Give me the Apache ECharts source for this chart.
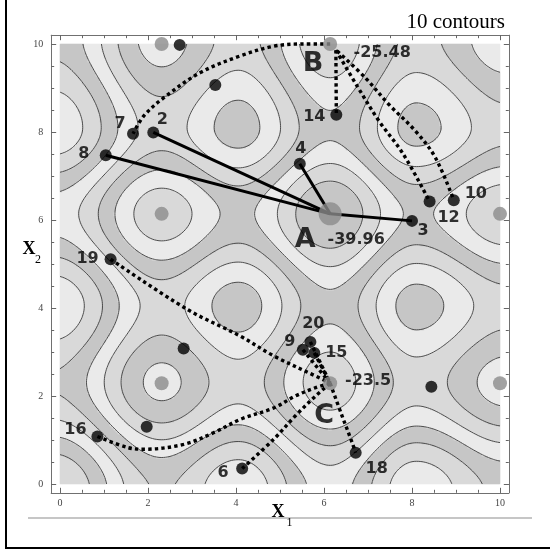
<!DOCTYPE html>
<html>
<head>
<meta charset="utf-8">
<script src="https://cdn.jsdelivr.net/npm/echarts@6.0.0/dist/echarts.min.js"></script>
<style>
html,body{margin:0;padding:0;background:#ffffff;}
#chart{width:550px;height:551px;}
</style>
</head>
<body>
<div id="chart"></div>
<script>
// ---------------- values ----------------
const chartTitle = '10 contours';
const contourCount = 10;
const xTickValues = [0, 2, 4, 6, 8, 10];
const yTickValues = [0, 2, 4, 6, 8, 10];
const minorTickValues = [0, 0.5, 1, 1.5, 2, 2.5, 3, 3.5, 4, 4.5, 5, 5.5, 6, 6.5, 7, 7.5, 8, 8.5, 9, 9.5, 10];

// one-coordinate term of the objective (objective = term(x1) + term(x2)):
// positions and values of its alternating maxima / minima
const profileExtremaX = [-0.15, 2.31, 4.05, 6.14, 8.1, 10.15];
const profileExtremaG = [47.3, -3.52, 19.5, -19.98, 18.6, -5.9];

// local minima (grey markers)
const minimaNames  = ['A', 'B', 'C', 'm1', 'm2', 'm3', 'm4', 'm5'];
const minimaX      = [6.14, 6.14, 6.14, 2.31, 2.31, 2.31, 10.0, 10.0];
const minimaY      = [6.14, 10.0, 2.29, 10.0, 6.14, 2.29, 6.14, 2.29];
const minimaValues = ['-39.96', '-25.48', '-23.5', '', '', '', '', ''];

// particles (black markers)
const particleNames = ['2', '3', '4', '6', '7', '8', '9', '10', '12', '14', '15', '16', '18', '19', '20', '', '', '', '', ''];
const particleX     = [2.12, 8.0, 5.45, 4.14, 1.66, 1.04, 5.52, 8.95, 8.4, 6.28, 5.78, 0.85, 6.72, 1.15, 5.69, 2.72, 3.53, 2.81, 1.97, 8.44];
const particleY     = [7.99, 5.98, 7.28, 0.35, 7.96, 7.47, 3.05, 6.45, 6.42, 8.39, 2.98, 1.08, 0.71, 5.11, 3.23, 9.98, 9.07, 3.08, 1.30, 2.21];

// solid links from A
const solidLinkTargets = ['8', '2', '4', '3'];

// dotted trajectories
const pathB7X  = [6.14, 5.5, 4.86, 4.1, 3.19, 2.36, 1.9, 1.66];
const pathB7Y  = [10.0, 10.0, 9.95, 9.73, 9.35, 8.78, 8.36, 7.96];
const pathB14X = [6.27, 6.28];
const pathB14Y = [9.86, 8.39];
const pathB12X = [6.27, 6.75, 7.25, 7.8, 8.4];
const pathB12Y = [9.86, 9.05, 8.25, 7.5, 6.42];
const pathB10X = [6.3, 6.94, 7.47, 8.08, 8.53, 8.95];
const pathB10Y = [9.84, 9.23, 8.63, 8.02, 7.42, 6.45];
const path19CX = [1.15, 2.89, 4.1, 4.86, 5.88, 6.14];
const path19CY = [5.11, 3.97, 3.36, 2.91, 2.42, 2.29];
const path16CX = [0.85, 1.53, 1.9, 2.81, 3.5, 4.1, 4.86, 5.35, 5.81, 6.14];
const path16CY = [1.08, 0.83, 0.79, 0.9, 1.17, 1.47, 1.73, 2.0, 2.19, 2.29];
const path6CX  = [4.14, 4.86, 5.35, 5.81, 6.14];
const path6CY  = [0.35, 1.02, 1.55, 2.0, 2.29];
const pathC18X = [6.14, 6.41, 6.64, 6.72];
const pathC18Y = [2.29, 1.55, 0.94, 0.71];
const dottedLinkPairs = [['9', 'C'], ['20', 'C'], ['15', 'C']];

// ---------------- styles (kept apart from the data) ----------------
const bandShades = ['#c6c6c6', '#d9d9d9', '#eaeaea'];
const particleLabelOffset = {
  '2': [9, -13], '3': [11, 10], '4': [1, -15], '6': [-19, 4], '7': [-13, -10], '8': [-22, -1],
  '9': [-13, -8], '10': [22, -6], '12': [19, 16], '14': [-22, 2], '15': [22, 0], '16': [-22, -7],
  '18': [21, 16], '19': [-23, 0], '20': [3, -18]
};
const letterOffset = { A: [-25, 26], B: [-17, 20], C: [-6, 33] };
const valueOffset  = { A: [26, 26], B: [52, 9], C: [38, -2] };

// ---------------- objective surface ----------------
// smooth half-cosine transition between consecutive extrema of the profile
function extremaProfile(xs, gs) {
  const n = xs.length;
  return function (x) {
    if (x <= xs[0]) return gs[0];
    if (x >= xs[n - 1]) return gs[n - 1];
    let i = 0;
    while (x > xs[i + 1]) i++;
    const t = (x - xs[i]) / (xs[i + 1] - xs[i]);
    return gs[i] + (gs[i + 1] - gs[i]) * (1 - Math.cos(Math.PI * t)) / 2;
  };
}
const term = extremaProfile(profileExtremaX, profileExtremaG);

// sampling lattice for contours
const LAT = 200, latStep = 10 / LAT;
const lat = [];
for (let i = 0; i <= LAT; i++) lat.push(i * latStep);
const termLat = lat.map(term);
const F = [];
let fMin = Infinity, fMax = -Infinity;
for (let j = 0; j <= LAT; j++) {
  const row = [];
  for (let i = 0; i <= LAT; i++) {
    const v = termLat[i] + termLat[j];
    row.push(v);
    if (v < fMin) fMin = v;
    if (v > fMax) fMax = v;
  }
  F.push(row);
}
const levels = [];
for (let k = 1; k <= contourCount; k++) levels.push(fMin + (fMax - fMin) * k / (contourCount + 1));

function contourSegments(level) {
  const segs = [];
  for (let j = 0; j < LAT; j++) {
    for (let i = 0; i < LAT; i++) {
      const v0 = F[j][i], v1 = F[j][i + 1], v2 = F[j + 1][i + 1], v3 = F[j + 1][i];
      let c = 0;
      if (v0 > level) c |= 1; if (v1 > level) c |= 2; if (v2 > level) c |= 4; if (v3 > level) c |= 8;
      if (c === 0 || c === 15) continue;
      const x0 = lat[i], x1 = lat[i + 1], y0 = lat[j], y1 = lat[j + 1];
      const eB = () => [x0 + (level - v0) / (v1 - v0) * (x1 - x0), y0];
      const eR = () => [x1, y0 + (level - v1) / (v2 - v1) * (y1 - y0)];
      const eT = () => [x0 + (level - v3) / (v2 - v3) * (x1 - x0), y1];
      const eL = () => [x0, y0 + (level - v0) / (v3 - v0) * (y1 - y0)];
      const add = (a, b) => segs.push([a[0], a[1], b[0], b[1]]);
      switch (c) {
        case 1: case 14: add(eL(), eB()); break;
        case 2: case 13: add(eB(), eR()); break;
        case 3: case 12: add(eL(), eR()); break;
        case 4: case 11: add(eR(), eT()); break;
        case 6: case 9: add(eB(), eT()); break;
        case 7: case 8: add(eL(), eT()); break;
        case 5: add(eL(), eT()); add(eB(), eR()); break;
        case 10: add(eL(), eB()); add(eR(), eT()); break;
      }
    }
  }
  return segs;
}
const contourSegs = levels.map(contourSegments);

// shaded bands (heatmap cells)
const CELLS = 220, cellStep = 10 / CELLS;
const cellIndex = [];
for (let k = 0; k < CELLS; k++) cellIndex.push(k);
const cellTerm = cellIndex.map(k => term((k + 0.5) * cellStep));
const heatData = [];
for (let j = 0; j < CELLS; j++) {
  for (let i = 0; i < CELLS; i++) {
    const v = cellTerm[i] + cellTerm[j];
    let band = 0;
    while (band < levels.length && v > levels[band]) band++;
    heatData.push([i, j, band]);
  }
}

// ---------------- chart ----------------
const AXMIN = -0.2, AXMAX = 10.2;
const frameColor = '#707070';
const tickFont = { fontFamily: 'Liberation Serif', fontSize: 10, color: '#444' };

function valueAxis(position, ticks, len, withLine, withLabels) {
  return {
    gridIndex: 0, type: 'value', min: AXMIN, max: AXMAX, position: position,
    axisLine: { show: withLine, onZero: false, lineStyle: { color: frameColor, width: 1 } },
    axisTick: { show: true, inside: true, length: len, customValues: ticks, lineStyle: { color: '#666', width: 1 } },
    axisLabel: withLabels ? Object.assign({ show: true, customValues: ticks, margin: 6 }, tickFont) : { show: false },
    splitLine: { show: false }
  };
}
const xAxes = [
  valueAxis('bottom', xTickValues, 5, true, true),
  valueAxis('bottom', minorTickValues, 3, false, false),
  valueAxis('top', xTickValues, 5, true, false),
  valueAxis('top', minorTickValues, 3, false, false),
  { gridIndex: 1, type: 'category', data: cellIndex, show: false }
];
const yAxes = [
  valueAxis('left', yTickValues, 5, true, true),
  valueAxis('left', minorTickValues, 3, false, false),
  valueAxis('right', yTickValues, 5, true, false),
  valueAxis('right', minorTickValues, 3, false, false),
  { gridIndex: 1, type: 'category', data: cellIndex, show: false }
];
yAxes[0].axisLabel.margin = 8;

const pIndex = {};
particleNames.forEach((n, i) => { if (n) pIndex[n] = [particleX[i], particleY[i]]; });
minimaNames.forEach((n, i) => { pIndex[n] = [minimaX[i], minimaY[i]]; });

const series = [];
series.push({
  type: 'heatmap', xAxisIndex: 4, yAxisIndex: 4, data: heatData, progressive: 0,
  silent: true, z: 0, emphasis: { disabled: true }
});
series.push({
  type: 'custom', xAxisIndex: 0, yAxisIndex: 0, z: 1, silent: true,
  data: levels.map((L, i) => [5, 5, i]),
  renderItem: function (params, api) {
    const segs = contourSegs[params.dataIndex];
    let d = '';
    for (const s of segs) {
      const p = api.coord([s[0], s[1]]), q = api.coord([s[2], s[3]]);
      d += 'M' + p[0].toFixed(2) + ' ' + p[1].toFixed(2) + 'L' + q[0].toFixed(2) + ' ' + q[1].toFixed(2);
    }
    return { type: 'path', shape: { pathData: d }, style: { fill: null, stroke: '#3c3c3c', lineWidth: 0.9 } };
  }
});
const dotted = { color: '#000', width: 3.4, type: [3.4, 3.2] };
[[pathB7X, pathB7Y], [pathB14X, pathB14Y], [pathB12X, pathB12Y], [pathB10X, pathB10Y],
 [path19CX, path19CY], [path16CX, path16CY], [path6CX, path6CY], [pathC18X, pathC18Y]].forEach(p => {
  series.push({
    type: 'line', xAxisIndex: 0, yAxisIndex: 0, z: 2, silent: true, showSymbol: false, smooth: 0.35,
    data: p[0].map((x, i) => [x, p[1][i]]), lineStyle: dotted
  });
});
dottedLinkPairs.forEach(pr => {
  series.push({
    type: 'line', xAxisIndex: 0, yAxisIndex: 0, z: 2, silent: true, showSymbol: false,
    data: [pIndex[pr[0]], pIndex[pr[1]]], lineStyle: dotted
  });
});
solidLinkTargets.forEach(t => {
  series.push({
    type: 'line', xAxisIndex: 0, yAxisIndex: 0, z: 2, silent: true, showSymbol: false,
    data: [pIndex['A'], pIndex[t]], lineStyle: { color: '#000', width: 3, type: 'solid' }
  });
});
// particles
series.push({
  type: 'scatter', xAxisIndex: 0, yAxisIndex: 0, z: 3, silent: true, symbolSize: 12,
  itemStyle: { color: '#000' },
  data: particleX.map((x, i) => ({
    value: [x, particleY[i]], name: particleNames[i],
    label: { show: !!particleNames[i], offset: particleLabelOffset[particleNames[i]] || [0, 0] }
  })),
  label: { position: 'inside', formatter: '{b}', color: '#000', fontFamily: 'DejaVu Sans', fontWeight: 'bold', fontSize: 16 }
});
// minima
series.push({
  type: 'scatter', xAxisIndex: 0, yAxisIndex: 0, z: 4, silent: true,
  itemStyle: { color: '#8b8b8b' },
  data: minimaX.map((x, i) => ({ value: [x, minimaY[i]], name: minimaNames[i], symbolSize: minimaNames[i] === 'A' ? 23 : 14 }))
});
// minimum letters and values
series.push({
  type: 'scatter', xAxisIndex: 0, yAxisIndex: 0, z: 5, silent: true, symbolSize: 1,
  itemStyle: { color: 'rgba(0,0,0,0)' },
  data: ['A', 'B', 'C'].map(n => ({ value: pIndex[n], name: n, label: { offset: letterOffset[n] } })),
  label: { show: true, position: 'inside', formatter: '{b}', color: '#000', fontFamily: 'DejaVu Sans', fontWeight: 'bold', fontSize: 27 }
});
series.push({
  type: 'scatter', xAxisIndex: 0, yAxisIndex: 0, z: 5, silent: true, symbolSize: 1,
  itemStyle: { color: 'rgba(0,0,0,0)' },
  data: ['A', 'B', 'C'].map((n, i) => ({ value: pIndex[n], name: minimaValues[i], label: { offset: valueOffset[n] } })),
  label: { show: true, position: 'inside', formatter: '{b}', color: '#000', fontFamily: 'DejaVu Sans', fontWeight: 'bold', fontSize: 16 }
});

const chart = echarts.init(document.getElementById('chart'), null, { renderer: 'canvas' });
chart.setOption({
  animation: false,
  backgroundColor: '#ffffff',
  grid: [
    { left: 51.2, top: 35.2, width: 457.6, height: 457.6, containLabel: false },
    { left: 60, top: 44, width: 440, height: 440, containLabel: false }
  ],
  xAxis: xAxes,
  yAxis: yAxes,
  visualMap: {
    type: 'piecewise', show: false, seriesIndex: 0, dimension: 2,
    pieces: levels.concat([0]).map((_, k) => ({ value: k, color: bandShades[k % 3] }))
  },
  graphic: [
    { type: 'line', silent: true, shape: { x1: 6, y1: 0, x2: 6, y2: 549 }, style: { stroke: '#000', lineWidth: 2 } },
    { type: 'line', silent: true, shape: { x1: 5, y1: 548, x2: 550, y2: 548 }, style: { stroke: '#000', lineWidth: 2 } },
    { type: 'line', silent: true, shape: { x1: 28, y1: 518, x2: 532, y2: 518 }, style: { stroke: '#c6c6c6', lineWidth: 2 } },
    { type: 'text', silent: true, x: 505, y: 22, style: { text: chartTitle, font: '21px "Liberation Serif"', fill: '#000', align: 'right', verticalAlign: 'middle', textAlign: 'right', textVerticalAlign: 'middle' } },
    { type: 'text', silent: true, x: 278, y: 512, style: { text: 'X', font: 'bold 18px "Liberation Serif"', fill: '#000', align: 'center', verticalAlign: 'middle', textAlign: 'center', textVerticalAlign: 'middle' } },
    { type: 'text', silent: true, x: 289.5, y: 523, style: { text: '1', font: '12px "Liberation Serif"', fill: '#000', align: 'center', verticalAlign: 'middle', textAlign: 'center', textVerticalAlign: 'middle' } },
    { type: 'text', silent: true, x: 29, y: 249.5, style: { text: 'X', font: 'bold 18px "Liberation Serif"', fill: '#000', align: 'center', verticalAlign: 'middle', textAlign: 'center', textVerticalAlign: 'middle' } },
    { type: 'text', silent: true, x: 38, y: 259.5, style: { text: '2', font: '12px "Liberation Serif"', fill: '#000', align: 'center', verticalAlign: 'middle', textAlign: 'center', textVerticalAlign: 'middle' } }
  ],
  series: series
});
</script>
</body>
</html>
